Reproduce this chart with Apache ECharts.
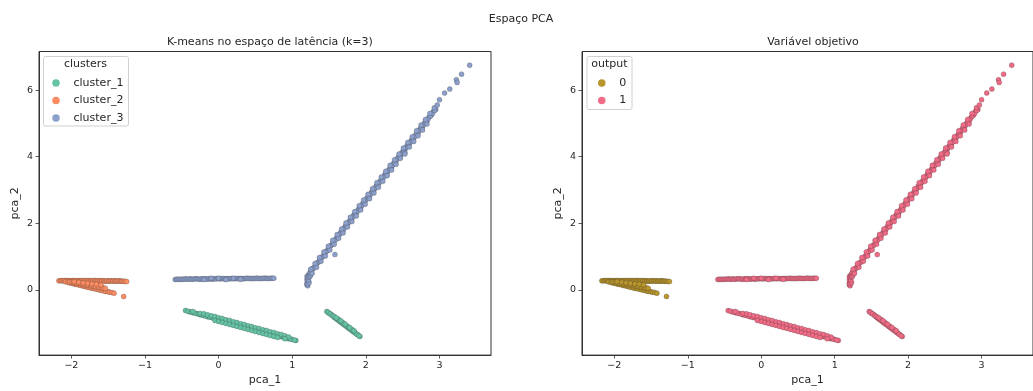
<!DOCTYPE html>
<html>
<head>
<meta charset="utf-8">
<script src="https://cdn.jsdelivr.net/npm/echarts@6/dist/echarts.min.js"></script>
<style>
  html, body { margin: 0; padding: 0; background: #fff; }
  #chart { width: 1033px; height: 391px; }
</style>
</head>
<body>
<div id="chart"></div>
<script>
// PCA coordinates (pca_1, pca_2) of the samples, grouped by k-means cluster
const cluster1 = [
  // long band
  [-0.45,-0.62],[-0.40,-0.66],[-0.35,-0.69],[-0.30,-0.71],[-0.25,-0.75],[-0.20,-0.77],[-0.15,-0.81],
  [-0.10,-0.83],[-0.05,-0.87],[0.00,-0.89],[0.05,-0.93],[0.10,-0.95],[0.15,-0.99],[0.20,-1.01],
  [0.25,-1.05],[0.30,-1.07],[0.35,-1.11],[0.40,-1.13],[0.45,-1.17],[0.50,-1.19],[0.55,-1.23],
  [0.60,-1.25],[0.65,-1.29],[0.70,-1.31],[0.75,-1.35],[0.80,-1.37],[0.85,-1.41],[0.90,-1.43],
  [0.95,-1.47],[1.00,-1.49],[1.05,-1.52],
  [-0.42,-0.64],[-0.37,-0.67],[-0.32,-0.70],[-0.27,-0.73],[-0.22,-0.76],[-0.17,-0.79],[-0.12,-0.82],
  [-0.07,-0.85],[-0.02,-0.88],[0.03,-0.91],[0.08,-0.94],[0.13,-0.97],[0.18,-1.00],[0.23,-1.03],
  [0.28,-1.06],[0.33,-1.09],[0.38,-1.12],[0.43,-1.15],[0.48,-1.18],[0.53,-1.21],[0.58,-1.24],
  [0.63,-1.27],[0.68,-1.30],[0.73,-1.33],[0.78,-1.36],[0.83,-1.39],[0.88,-1.42],[0.93,-1.45],
  [0.98,-1.48],[1.03,-1.51],
  [-0.35,-0.65],[-0.25,-0.71],[-0.20,-0.72],[-0.15,-0.75],[-0.10,-0.78],[-0.05,-0.80],[0.00,-0.84],
  [0.05,-0.86],[0.10,-0.90],[0.15,-0.92],[0.20,-0.96],[0.25,-0.98],[0.30,-1.02],[0.35,-1.04],
  [0.40,-1.08],[0.45,-1.10],[0.50,-1.14],[0.55,-1.16],[0.60,-1.20],[0.65,-1.22],[0.70,-1.26],
  [0.75,-1.28],[0.80,-1.32],[0.85,-1.34],[0.90,-1.38],[0.95,-1.42],
  [-0.05,-0.92],[0.00,-0.95],[0.05,-0.98],[0.10,-1.01],[0.15,-1.04],[0.20,-1.07],[0.25,-1.10],
  [0.30,-1.13],[0.35,-1.16],[0.40,-1.19],[0.45,-1.22],[0.50,-1.25],[0.55,-1.28],[0.60,-1.31],
  [0.65,-1.34],[0.70,-1.37],[0.75,-1.40],[0.80,-1.43],[0.90,-1.47],
  // short band
  [1.47,-0.65],[1.50,-0.70],[1.53,-0.74],[1.56,-0.80],[1.59,-0.85],[1.62,-0.90],[1.65,-0.95],
  [1.68,-1.00],[1.71,-1.05],[1.74,-1.10],[1.77,-1.15],[1.80,-1.20],[1.83,-1.25],[1.86,-1.30],
  [1.89,-1.35],[1.92,-1.40],
  [1.485,-0.67],[1.515,-0.72],[1.545,-0.77],[1.575,-0.83],[1.605,-0.88],[1.635,-0.93],[1.665,-0.98],
  [1.695,-1.03],[1.725,-1.08],[1.755,-1.13],[1.785,-1.18],[1.815,-1.23],[1.845,-1.28],[1.875,-1.33],
  [1.905,-1.38],
  [1.57,-0.80],[1.63,-0.89],[1.69,-0.99],[1.75,-1.09],[1.81,-1.19],
  [1.60,-0.84],[1.66,-0.93],[1.72,-1.03],[1.78,-1.13],[1.84,-1.23]
];
const cluster2 = [
  // upper edge
  [-2.17,0.27],[-2.15,0.27],[-2.13,0.28],[-2.12,0.27],[-2.10,0.27],[-2.09,0.28],[-2.07,0.28],
  [-2.06,0.27],[-2.04,0.27],[-2.03,0.28],[-2.01,0.27],[-2.00,0.27],[-1.98,0.28],[-1.97,0.27],
  [-1.95,0.27],[-1.94,0.28],[-1.92,0.27],[-1.91,0.27],[-1.89,0.28],[-1.88,0.27],[-1.86,0.27],
  [-1.85,0.28],[-1.83,0.27],[-1.82,0.27],[-1.80,0.28],[-1.79,0.27],[-1.77,0.27],[-1.76,0.28],
  [-1.74,0.27],[-1.73,0.27],[-1.71,0.27],[-1.70,0.28],[-1.68,0.28],[-1.67,0.27],[-1.65,0.27],
  [-1.64,0.27],[-1.62,0.27],[-1.61,0.28],[-1.59,0.27],[-1.58,0.27],[-1.56,0.27],[-1.55,0.26],
  [-1.53,0.26],[-1.52,0.27],[-1.50,0.27],[-1.49,0.26],[-1.47,0.27],[-1.46,0.27],[-1.44,0.26],
  [-1.43,0.27],[-1.41,0.27],[-1.40,0.26],[-1.38,0.26],[-1.37,0.27],[-1.35,0.27],[-1.34,0.26],
  [-1.32,0.26],[-1.31,0.26],[-1.29,0.26],[-1.27,0.25],[-1.25,0.25],
  // lower edge of the fan
  [-2.08,0.24],[-2.05,0.23],[-2.03,0.21],[-2.00,0.20],[-1.98,0.19],[-1.95,0.17],[-1.93,0.16],
  [-1.90,0.15],[-1.88,0.13],[-1.85,0.12],[-1.83,0.11],[-1.80,0.09],[-1.78,0.08],[-1.75,0.07],
  [-1.73,0.05],[-1.70,0.04],[-1.68,0.03],[-1.65,0.02],[-1.63,0.00],[-1.60,-0.01],[-1.58,-0.02],
  [-1.55,-0.04],[-1.53,-0.05],[-1.50,-0.06],[-1.48,-0.07],[-1.45,-0.08],[-1.42,-0.10],
  // inside the fan
  [-2.02,0.24],[-1.99,0.23],[-1.97,0.22],[-1.94,0.21],[-1.92,0.20],[-1.89,0.19],[-1.87,0.18],
  [-1.84,0.17],[-1.82,0.16],[-1.79,0.15],[-1.77,0.14],[-1.74,0.13],[-1.72,0.12],[-1.69,0.11],
  [-1.67,0.10],[-1.64,0.09],[-1.62,0.08],[-1.59,0.07],[-1.57,0.06],[-1.54,0.05],
  [-1.96,0.25],[-1.90,0.23],[-1.84,0.21],[-1.78,0.20],[-1.72,0.18],[-1.66,0.17],[-1.60,0.15],
  [-1.29,-0.20]
];
const cluster3 = [
  // horizontal band
  [-0.59,0.31],[-0.57,0.32],[-0.55,0.32],[-0.53,0.31],[-0.51,0.32],[-0.49,0.32],[-0.47,0.32],
  [-0.45,0.33],[-0.43,0.32],[-0.41,0.32],[-0.39,0.33],[-0.37,0.32],[-0.35,0.32],[-0.33,0.33],
  [-0.31,0.33],[-0.29,0.33],[-0.27,0.32],[-0.25,0.32],[-0.23,0.33],[-0.21,0.33],[-0.19,0.33],
  [-0.17,0.33],[-0.15,0.32],[-0.13,0.33],[-0.11,0.33],[-0.09,0.32],[-0.07,0.33],[-0.05,0.33],
  [-0.03,0.33],[-0.01,0.34],[0.01,0.33],[0.03,0.33],[0.05,0.34],[0.07,0.33],[0.09,0.33],
  [0.11,0.34],[0.13,0.33],[0.15,0.33],[0.17,0.34],[0.19,0.34],[0.21,0.33],[0.23,0.34],
  [0.25,0.34],[0.27,0.33],[0.29,0.34],[0.31,0.34],[0.33,0.33],[0.35,0.34],[0.37,0.34],
  [0.39,0.35],[0.41,0.34],[0.43,0.34],[0.45,0.34],[0.47,0.34],[0.49,0.34],[0.51,0.35],
  [0.53,0.35],[0.55,0.34],[0.57,0.34],[0.59,0.34],[0.61,0.35],[0.63,0.35],[0.65,0.35],
  [0.67,0.34],[0.69,0.34],[0.71,0.35],[0.73,0.35],[0.75,0.35],
  [-0.20,0.31],[0.00,0.35],[0.10,0.31],[0.20,0.35],[0.30,0.32],[-0.10,0.35],
  // hook at the foot of the diagonal
  [1.20,0.15],[1.21,0.12],[1.20,0.20],[1.21,0.25],[1.20,0.30],[1.21,0.35],[1.20,0.40],[1.22,0.45],
  [1.21,0.18],[1.23,0.22],[1.22,0.30],[1.22,0.38],[1.23,0.42],[1.24,0.40],[1.25,0.45],
  // diagonal band
  [1.24,0.52],[1.26,0.56],[1.28,0.64],[1.30,0.67],[1.33,0.79],[1.36,0.84],[1.39,0.95],
  [1.42,1.01],[1.45,1.13],[1.48,1.19],[1.51,1.31],[1.54,1.36],[1.57,1.47],[1.60,1.55],
  [1.63,1.62],[1.66,1.73],[1.69,1.79],[1.72,1.91],[1.75,1.97],[1.78,2.07],[1.81,2.14],
  [1.84,2.26],[1.87,2.31],[1.90,2.42],[1.93,2.48],[1.96,2.60],[1.99,2.66],[2.02,2.77],
  [2.05,2.83],[2.08,2.94],[2.11,3.00],[2.14,3.12],[2.17,3.18],[2.20,3.28],[2.23,3.35],
  [2.26,3.47],[2.29,3.52],[2.32,3.63],[2.35,3.69],[2.38,3.81],[2.41,3.86],[2.44,3.98],
  [2.47,4.04],[2.50,4.15],[2.53,4.21],[2.56,4.33],[2.59,4.38],[2.62,4.50],[2.65,4.56],
  [2.68,4.67],[2.71,4.72],[2.74,4.85],[2.77,4.90],[2.80,5.02],[2.83,5.07],[2.86,5.19],
  [2.89,5.25],[2.92,5.37],[2.95,5.42],
  [1.255,0.55],[1.285,0.65],[1.315,0.72],[1.345,0.82],[1.375,0.89],[1.405,0.99],[1.435,1.07],
  [1.465,1.16],[1.495,1.25],[1.525,1.33],[1.555,1.42],[1.585,1.50],[1.615,1.59],[1.645,1.68],
  [1.675,1.76],[1.705,1.85],[1.735,1.93],[1.765,2.03],[1.795,2.10],[1.825,2.20],[1.855,2.28],
  [1.885,2.36],[1.915,2.46],[1.945,2.54],[1.975,2.62],[2.005,2.72],[2.035,2.80],[2.065,2.88],
  [2.095,2.97],[2.125,3.06],[2.155,3.15],[2.185,3.23],[2.215,3.32],[2.245,3.40],[2.275,3.49],
  [2.305,3.58],[2.335,3.66],[2.365,3.75],[2.395,3.83],[2.425,3.93],[2.455,4.00],[2.485,4.10],
  [2.515,4.18],[2.545,4.27],[2.575,4.35],[2.605,4.44],[2.635,4.53],[2.665,4.61],[2.695,4.70],
  [2.725,4.79],[2.755,4.87],[2.785,4.96],[2.815,5.04],[2.845,5.13],[2.875,5.22],[2.905,5.30],
  [2.935,5.39],
  [1.27,0.50],[1.33,0.68],[1.39,0.86],[1.45,1.02],[1.51,1.20],[1.57,1.37],[1.63,1.55],
  [1.69,1.71],[1.75,1.89],[1.81,2.05],[1.87,2.22],[1.93,2.40],[1.99,2.57],[2.05,2.74],
  [2.11,2.91],[2.17,3.08],[2.23,3.26],[2.29,3.43],[2.35,3.60],[2.41,3.77],[2.47,3.95],
  [2.53,4.12],[2.59,4.29],[2.65,4.46],[2.71,4.63],[2.77,4.80],[2.83,4.98],
  [1.25,0.62],[1.31,0.79],[1.37,0.97],[1.43,1.14],[1.49,1.31],[1.55,1.49],[1.61,1.66],
  [1.67,1.83],[1.73,2.01],[1.79,2.18],[1.85,2.35],[1.91,2.53],[1.97,2.70],[2.03,2.87],
  [2.09,3.04],[2.15,3.22],[2.21,3.39],[2.27,3.56],[2.33,3.74],[2.39,3.91],[2.45,4.08],
  [2.51,4.26],[2.57,4.43],[2.63,4.60],[2.69,4.78],[2.75,4.95],[2.81,5.12],[2.87,5.30],
  [2.93,5.47],
  // sparse upper tail and stray points
  [2.97,5.55],[3.00,5.71],[3.07,5.91],[3.14,6.03],[3.23,6.31],[3.24,6.23],[3.30,6.48],[3.41,6.75],
  [1.58,1.06],[2.53,4.08]
];

// Target variable: cluster_2 samples have output 0, the rest output 1
const output0 = cluster2;
const output1 = cluster1.concat(cluster3);

const clusterNames = ['cluster_1', 'cluster_2', 'cluster_3'];
const clusterColors = ['#66c2a5', '#fc8d62', '#8da0cb'];
const outputNames = ['0', '1'];
const outputColors = ['#b9952d', '#f06c86'];

const xTicks = [-2, -1, 0, 1, 2, 3];
const yTicks = [0, 2, 4, 6];
const xRange = [-2.44, 3.70];
const yRange = [-1.96, 7.16];

const FONT = 'DejaVu Sans';
const INK = '#262626';

function minusSign(v) { return String(v).replace('-', '\u2212'); }

function xAxisFor(gridIndex) {
  return {
    type: 'value', gridIndex, min: xRange[0], max: xRange[1],
    name: 'pca_1', nameLocation: 'middle', nameGap: 19,
    nameTextStyle: { fontFamily: FONT, fontSize: 11, color: INK },
    splitLine: { show: false },
    axisLine: { show: true, onZero: false, lineStyle: { color: '#333', width: 1 } },
    axisTick: { show: true, customValues: xTicks, length: 3.5, lineStyle: { color: '#333', width: 0.8 } },
    axisLabel: { customValues: xTicks, formatter: minusSign, fontFamily: FONT, fontSize: 9.5, color: INK, margin: 5 }
  };
}
function yAxisFor(gridIndex) {
  return {
    type: 'value', gridIndex, min: yRange[0], max: yRange[1],
    name: 'pca_2', nameLocation: 'middle', nameGap: 18,
    nameTextStyle: { fontFamily: FONT, fontSize: 11, color: INK },
    splitLine: { show: false },
    axisLine: { show: true, onZero: false, lineStyle: { color: '#333', width: 1 } },
    axisTick: { show: true, customValues: yTicks, length: 3.5, lineStyle: { color: '#333', width: 0.8 } },
    axisLabel: { customValues: yTicks, formatter: minusSign, fontFamily: FONT, fontSize: 9.5, color: INK, margin: 6 }
  };
}

function scatter(name, data, color, axisIndex) {
  return {
    type: 'scatter', name, data,
    xAxisIndex: axisIndex, yAxisIndex: axisIndex,
    symbol: 'circle', symbolSize: 5,
    itemStyle: { color, borderColor: 'rgba(35,35,35,0.45)', borderWidth: 0.5, opacity: 1 },
    emphasis: { disabled: true },
    animation: false
  };
}

const clusterData = [cluster1, cluster2, cluster3];
const outputData = [output0, output1];

const series = [];
clusterNames.forEach((n, i) => series.push(scatter(n, clusterData[i], clusterColors[i], 0)));
outputNames.forEach((n, i) => series.push(scatter(n, outputData[i], outputColors[i], 1)));

const legendCommon = {
  orient: 'vertical', icon: 'circle', itemWidth: 25, itemHeight: 7.5, itemGap: 6.5,
  textStyle: { fontFamily: FONT, fontSize: 11, color: INK },
  itemStyle: { borderWidth: 0 },
  selectedMode: false, padding: 0
};

const chart = echarts.init(document.getElementById('chart'), null, { renderer: 'canvas' });
chart.setOption({
  backgroundColor: '#ffffff',
  animation: false,
  title: [
    { text: 'Espaço PCA', left: 516, top: 9, textAlign: 'center',
      textStyle: { fontFamily: FONT, fontSize: 11, fontWeight: 'normal', color: INK } },
    { text: 'K-means no espaço de latência (k=3)', left: 265, top: 32, textAlign: 'center',
      textStyle: { fontFamily: FONT, fontSize: 11, fontWeight: 'normal', color: INK } },
    { text: 'Variável objetivo', left: 808, top: 32, textAlign: 'center',
      textStyle: { fontFamily: FONT, fontSize: 11, fontWeight: 'normal', color: INK } }
  ],
  grid: [
    { left: 39, top: 51.5, width: 452, height: 306.5, show: true, borderColor: '#333', borderWidth: 1, backgroundColor: 'transparent' },
    { left: 582, top: 51.5, width: 452, height: 306.5, show: true, borderColor: '#333', borderWidth: 1, backgroundColor: 'transparent' }
  ],
  xAxis: [xAxisFor(0), xAxisFor(1)],
  yAxis: [yAxisFor(0), yAxisFor(1)],
  legend: [
    Object.assign({ data: clusterNames, left: 52.25, top: 77.5 }, legendCommon),
    Object.assign({ data: outputNames, left: 598, top: 77.5 }, legendCommon)
  ],
  graphic: [
    { type: 'rect', z: 0, shape: { x: 43.5, y: 56.5, width: 85, height: 69.5, r: 2 },
      style: { fill: 'rgba(255,255,255,0.8)', stroke: '#d0d0d0', lineWidth: 1 } },
    { type: 'text', z: 1, x: 85.5, y: 64, style: { text: 'clusters', fontFamily: FONT, fontSize: 11, fill: INK, align: 'center', verticalAlign: 'middle' } },
    { type: 'rect', z: 0, shape: { x: 587, y: 56.5, width: 45, height: 53, r: 2 },
      style: { fill: 'rgba(255,255,255,0.8)', stroke: '#d0d0d0', lineWidth: 1 } },
    { type: 'text', z: 1, x: 609.5, y: 64, style: { text: 'output', fontFamily: FONT, fontSize: 11, fill: INK, align: 'center', verticalAlign: 'middle' } }
  ],
  series
});
</script>
</body>
</html>
